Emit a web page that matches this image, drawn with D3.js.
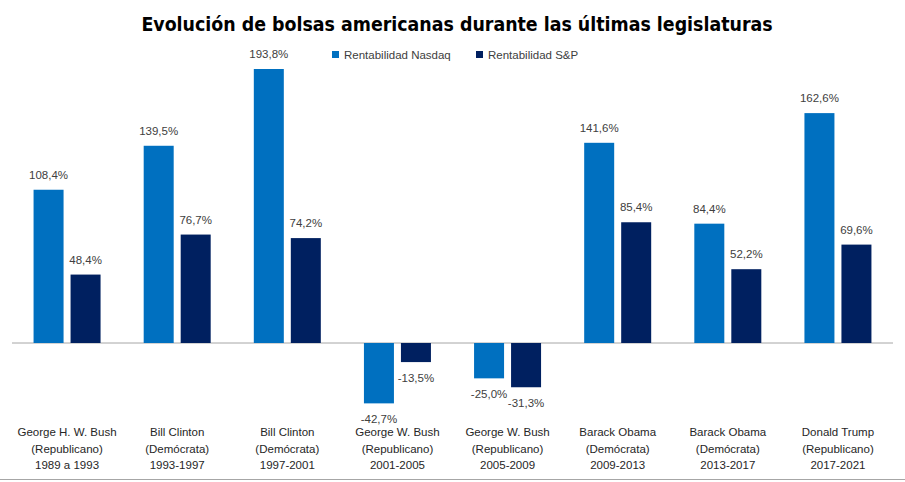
<!DOCTYPE html>
<html>
<head>
<meta charset="utf-8">
<script src="https://cdn.jsdelivr.net/npm/d3@7"></script>
<style>
  html, body { margin: 0; padding: 0; background: #fff; }
  svg { display: block; }
</style>
</head>
<body>
<script>
// data
var presidents = ['George H. W. Bush', 'Bill Clinton', 'Bill Clinton', 'George W. Bush', 'George W. Bush', 'Barack Obama', 'Barack Obama', 'Donald Trump'];
var parties = ['(Republicano)', '(Demócrata)', '(Demócrata)', '(Republicano)', '(Republicano)', '(Demócrata)', '(Demócrata)', '(Republicano)'];
var periods = ['1989 a 1993', '1993-1997', '1997-2001', '2001-2005', '2005-2009', '2009-2013', '2013-2017', '2017-2021'];
var nasdaq = [108.4, 139.5, 193.8, -42.7, -25.0, 141.6, 84.4, 162.6];
var sp = [48.4, 76.7, 74.2, -13.5, -31.3, 85.4, 52.2, 69.6];
var seriesNames = ['Rentabilidad Nasdaq', 'Rentabilidad S&P'];
var colors = ['#0070C0', '#002060'];

var W = 905, H = 482;
var font = "'Liberation Sans', Arial, sans-serif";

var svg = d3.select('body').append('svg').attr('width', W).attr('height', H)

var x0 = d3.scaleBand().domain(d3.range(periods.length)).range([12, 893])
var pairW = 67
var x1 = d3.scaleBand().domain([0, 1]).range([0, pairW]).paddingInner(7 / 37)
var y = d3.scaleLinear().domain([0, 193.8]).range([343, 69])

// title (condensed face, sized to the width in the picture)
var title = svg.append('text')
  .attr('x', 457).attr('y', 31)
  .attr('text-anchor', 'middle')
  .style('font-family', "'DejaVu Sans Condensed', 'Liberation Sans', sans-serif").style('font-weight', 'bold').style('font-size', '22px')
  .attr('fill', '#000')
  .text('Evolución de bolsas americanas durante las últimas legislaturas')
var tl = title.node().getComputedTextLength()
title.style('font-size', (22 * 632 / tl).toFixed(2) + 'px')

// legend
var legX = [332, 476]
seriesNames.forEach(function (name, i) {
  svg.append('rect').attr('x', legX[i]).attr('y', 51).attr('width', 7).attr('height', 7).attr('fill', colors[i])
  svg.append('text').attr('x', legX[i] + 12).attr('y', 59)
    .style('font-family', font).style('font-size', '11.5px').attr('fill', '#404040')
    .text(name)
})

// zero line
svg.append('line').attr('x1', 12).attr('x2', 893).attr('y1', y(0)).attr('y2', y(0))
  .attr('stroke', '#a6a6a6').attr('stroke-width', 1)

var rows = periods.map(function (p, i) { return [nasdaq[i], sp[i]] })
var fmt = d => d.toFixed(1).replace('.', ',') + '%'

var groups = svg.selectAll('g.grp')
  .data(rows)
  .enter().append('g')
    .attr('class', 'grp')
    .attr('transform', (d, i) => `translate(${x0(i) + (x0.bandwidth() - pairW) / 2}, 0)`)

groups.selectAll('rect')
  .data(d => d)
  .enter().append('rect')
    .attr('x', (d, j) => x1(j))
    .attr('width', x1.bandwidth())
    .attr('y', d => y(Math.max(0, d)))
    .attr('height', d => Math.abs(y(d) - y(0)))
    .attr('fill', (d, j) => colors[j])

groups.selectAll('text.val')
  .data(d => d)
  .enter().append('text')
    .attr('class', 'val')
    .attr('x', (d, j) => x1(j) + x1.bandwidth() / 2)
    .attr('y', d => d >= 0 ? y(d) - 11 : y(d) + 20)
    .attr('text-anchor', 'middle')
    .style('font-family', font).style('font-size', '11.5px')
    .attr('fill', '#404040')
    .text(fmt)

// category labels, three lines each
var catLines = [presidents, parties, periods]
var lineY = [436, 453, 469]
catLines.forEach(function (arr, k) {
  svg.selectAll('text.cat' + k)
    .data(arr)
    .enter().append('text')
      .attr('class', 'cat' + k)
      .attr('x', (d, i) => x0(i) + x0.bandwidth() / 2)
      .attr('y', lineY[k])
      .attr('text-anchor', 'middle')
      .style('font-family', font).style('font-size', '11.5px')
      .attr('fill', '#262626')
      .text(d => d)
})

// bottom border
svg.append('line').attr('x1', 0).attr('x2', W).attr('y1', 479.5).attr('y2', 479.5)
  .attr('stroke', '#a6a6a6').attr('stroke-width', 1)
</script>
</body>
</html>
